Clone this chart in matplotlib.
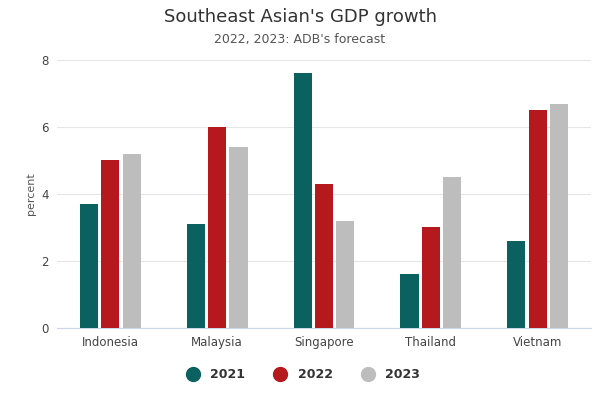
import matplotlib
matplotlib.use("Agg")
import matplotlib.pyplot as plt
import numpy as np
from matplotlib.lines import Line2D

categories = ["Indonesia", "Malaysia", "Singapore", "Thailand", "Vietnam"]
v2021 = [3.7, 3.1, 7.6, 1.6, 2.6]
v2022 = [5.0, 6.0, 4.3, 3.0, 6.5]
v2023 = [5.2, 5.4, 3.2, 4.5, 6.7]
series = ["2021", "2022", "2023"]
colors = ["#0b6160", "#b5191e", "#bdbdbd"]

fig = plt.figure(figsize=(6, 4), dpi=100)
ax = fig.add_axes([0.095, 0.18, 0.89, 0.67])
x = np.arange(len(categories))
w = 0.17
gap = 0.03
for i, (vals, c) in enumerate(zip([v2021, v2022, v2023], colors)):
    ax.bar(x + (i - 1) * (w + gap), vals, w, color=c, zorder=3)
ax.set_xlim(-0.5, len(categories) - 0.5)
ax.set_ylim(0, 8)
ax.set_yticks([0, 2, 4, 6, 8])
ax.set_xticks(x)
ax.set_xticklabels(categories)
ax.grid(axis="y", color="#e6e6e6", lw=0.8, zorder=0)
for s in ["top", "right", "left"]:
    ax.spines[s].set_visible(False)
ax.spines["bottom"].set_color("#ccd6eb")
ax.tick_params(axis="both", length=0, labelsize=8.5, colors="#444444", pad=6)
ax.set_ylabel("percent", fontsize=8, color="#555555")
fig.text(0.5, 0.945, "Southeast Asian's GDP growth", ha="center", fontsize=13, color="#333333")
fig.text(0.5, 0.893, "2022, 2023: ADB's forecast", ha="center", fontsize=9, color="#555555")
handles = [Line2D([], [], marker="o", ls="", color=c, markersize=10) for c in colors]
leg = fig.legend(handles, series, loc="center", bbox_to_anchor=(0.5, 0.063), ncol=3, frameon=False,
                 prop={"size": 9, "weight": "bold"}, handletextpad=0.4, columnspacing=1.8)
for t in leg.get_texts():
    t.set_color("#333333")
fig.savefig("out.png")
